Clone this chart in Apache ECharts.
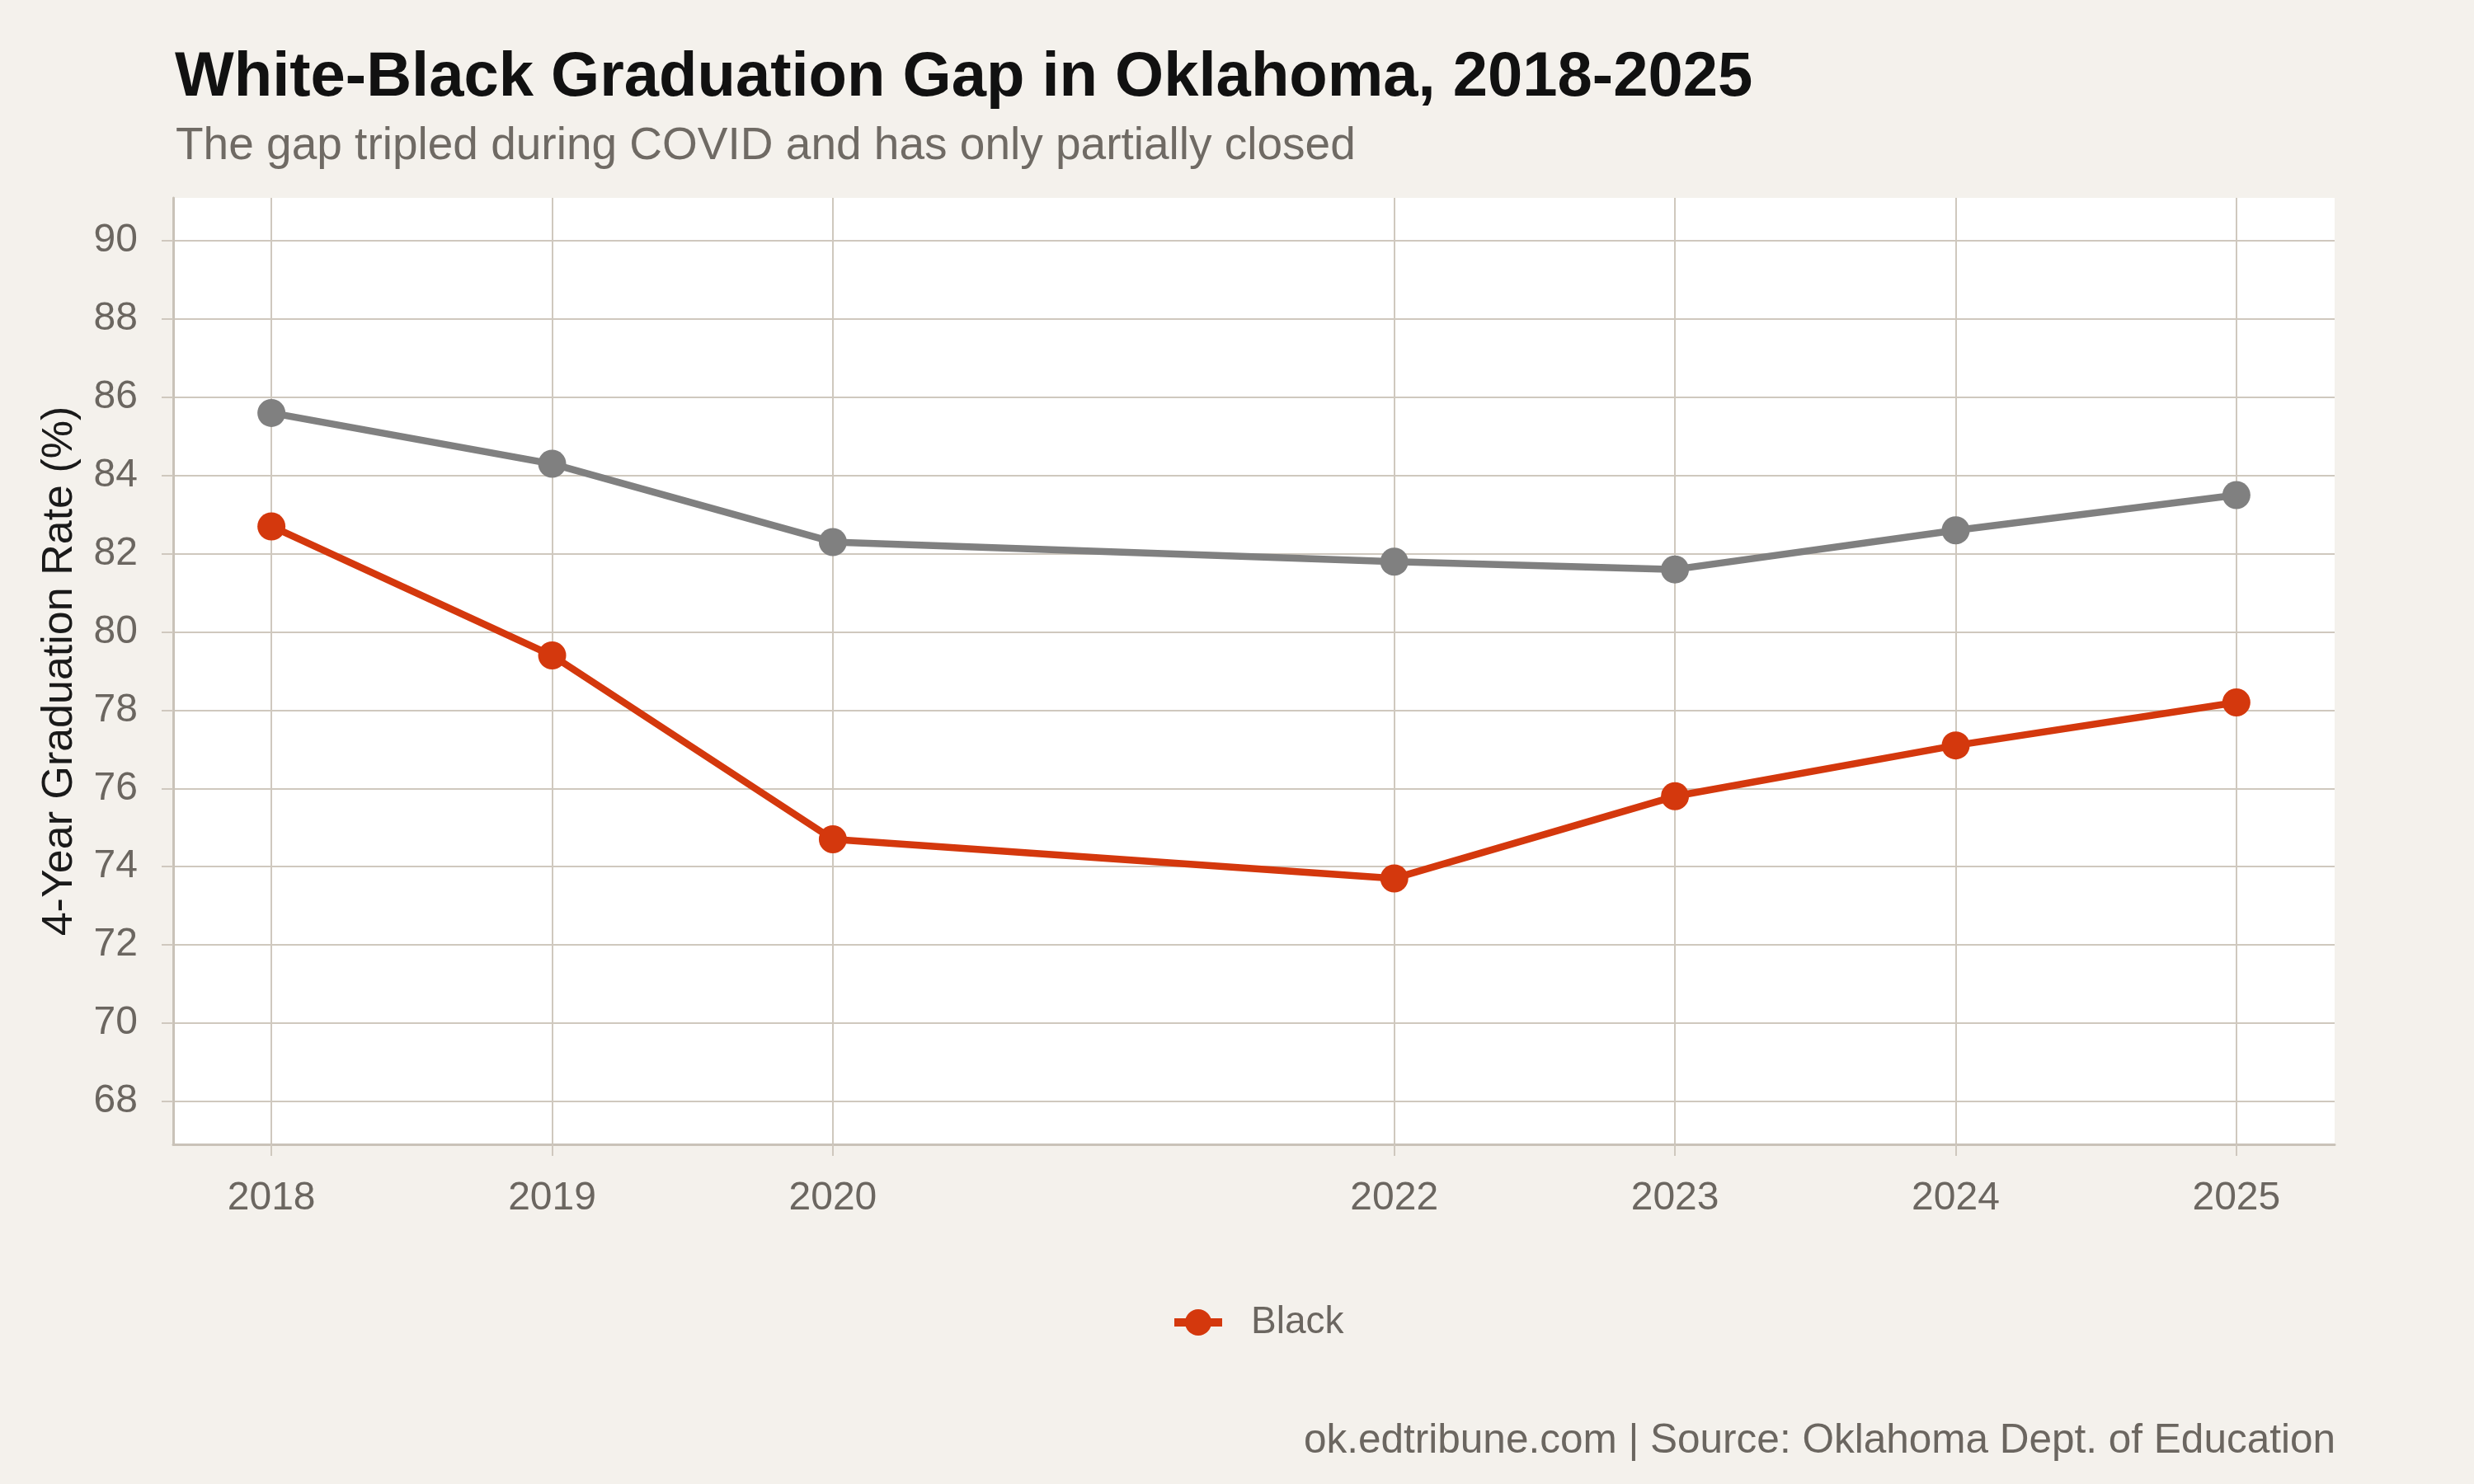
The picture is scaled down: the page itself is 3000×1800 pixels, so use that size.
<!DOCTYPE html>
<html>
<head>
<meta charset="utf-8">
<script src="https://cdn.jsdelivr.net/npm/echarts@6/dist/echarts.min.js"></script>
<style>
  html, body { margin: 0; padding: 0; background: #f4f1ec; }
  #chart { width: 3000px; height: 1800px; }
</style>
</head>
<body>
<div id="chart"></div>
<script>
// data
const years = [2018, 2019, 2020, 2022, 2023, 2024, 2025];
const whiteRate = [85.6, 84.3, 82.3, 81.8, 81.6, 82.6, 83.5];
const blackRate = [82.7, 79.4, 74.7, 73.7, 75.8, 77.1, 78.2];
const yTicks = [68, 70, 72, 74, 76, 78, 80, 82, 84, 86, 88, 90];

const FONT = "Liberation Sans";
const gridColor = "#cfc8be";
const labelColor = "#6b6660";

const chart = echarts.init(document.getElementById("chart"));

const option = {
  backgroundColor: "#f4f1ec",
  textStyle: { fontFamily: FONT },
  title: [
    {
      text: "White-Black Graduation Gap in Oklahoma, 2018-2025",
      left: 207,
      top: 52,
      textStyle: { fontFamily: FONT, fontSize: 76, fontWeight: "bold", color: "#111111" },
    },
    {
      text: "The gap tripled during COVID and has only partially closed",
      left: 208,
      top: 145,
      textStyle: { fontFamily: FONT, fontSize: 55, fontWeight: "normal", color: "#6f6a64" },
    },
    {
      text: "ok.edtribune.com | Source: Oklahoma Dept. of Education",
      right: 163,
      top: 1718,
      textStyle: { fontFamily: FONT, fontSize: 49.5, fontWeight: "normal", color: labelColor },
    },
  ],
  legend: {
    data: ["Black"],
    left: 1414,
    top: 1576,
    itemWidth: 58,
    itemHeight: 40,
    lineStyle: { width: 10 },
    textStyle: { fontFamily: FONT, fontSize: 46, color: labelColor, padding: [0, 0, 0, 30] },
  },
  grid: {
    left: 210,
    right: 169,
    top: 240,
    bottom: 412,
    show: true,
    backgroundColor: "#ffffff",
    borderWidth: 0,
  },
  xAxis: {
    type: "value",
    min: 2017.65,
    max: 2025.35,
    axisLine: { show: true, lineStyle: { color: "#c9c2b8", width: 3 } },
    axisTick: { show: true, length: 14, customValues: years, lineStyle: { color: gridColor, width: 2 } },
    axisLabel: {
      customValues: years,
      margin: 42,
      fontFamily: FONT,
      fontSize: 48,
      color: labelColor,
      formatter: (v) => String(v),
    },
    splitLine: { show: true, lineStyle: { color: gridColor, width: 2 } },
  },
  yAxis: {
    type: "value",
    min: 66.9,
    max: 91.1,
    name: "4-Year Graduation Rate (%)",
    nameLocation: "middle",
    nameGap: 111,
    nameTextStyle: { fontFamily: FONT, fontSize: 52, color: "#1a1a1a" },
    axisLine: { show: true, lineStyle: { color: "#c9c2b8", width: 3 } },
    axisTick: { show: true, length: 14, customValues: yTicks, lineStyle: { color: gridColor, width: 2 } },
    axisLabel: {
      customValues: yTicks,
      margin: 43,
      fontFamily: FONT,
      fontSize: 48,
      color: labelColor,
    },
    splitLine: { show: true, lineStyle: { color: gridColor, width: 2 } },
  },
  series: [
    {
      name: "White",
      type: "line",
      data: years.map((y, i) => [y, whiteRate[i]]),
      symbol: "circle",
      symbolSize: 34,
      itemStyle: { color: "#808080" },
      lineStyle: { color: "#808080", width: 8.5 },
      z: 2,
    },
    {
      name: "Black",
      type: "line",
      data: years.map((y, i) => [y, blackRate[i]]),
      symbol: "circle",
      symbolSize: 34,
      itemStyle: { color: "#d4380d" },
      lineStyle: { color: "#d4380d", width: 8.5 },
      z: 3,
    },
  ],
};

chart.setOption(option);
</script>
</body>
</html>
